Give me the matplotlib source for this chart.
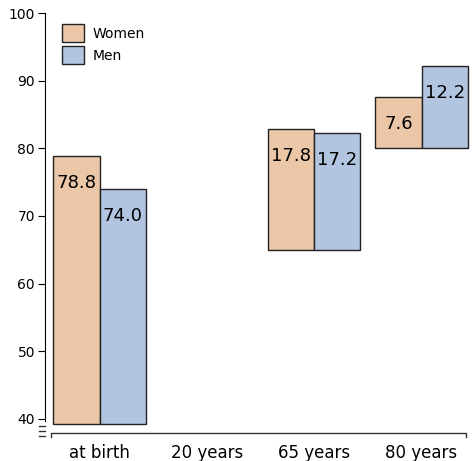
import matplotlib.pyplot as plt
from matplotlib.patches import Patch

plt.rcParams['font.family'] = ['Liberation Sans Narrow', 'DejaVu Sans']

categories = ['at birth', '20 years', '65 years', '80 years']
women_base = [39.2, None, 65.0, 80.0]
women_years = [78.8, None, 17.8, 7.6]
men_base = [39.2, None, 65.0, 80.0]
men_years = [74.0, None, 17.2, 12.2]
women_label = ['78.8', None, '17.8', '7.6']
men_label = ['74.0', None, '17.2', '12.2']

c_w = '#EBC7A8'
c_m = '#B1C4E0'
w = 0.43

fig = plt.figure(figsize=(4.77, 4.61), dpi=100)
ax = fig.add_axes([0.094, 0.033, 0.891, 0.946])

for i in range(len(categories)):
    if women_years[i] is None:
        continue
    # at birth the value is the absolute age, otherwise years remaining
    if i == 0:
        wt, mt = women_years[i], men_years[i]
    else:
        wt = women_base[i] + women_years[i]
        mt = men_base[i] + men_years[i]
    ax.bar(i - w / 2, wt - women_base[i], w, bottom=women_base[i], color=c_w, edgecolor='#222222', linewidth=1)
    ax.bar(i + w / 2, mt - men_base[i], w, bottom=men_base[i], color=c_m, edgecolor='#222222', linewidth=1)
    ax.text(i - w / 2, wt - 4, women_label[i], ha='center', va='center', fontsize=13)
    ax.text(i + w / 2, mt - 4, men_label[i], ha='center', va='center', fontsize=13)

ax.set_xlim(-0.51, 3.45)
ax.set_ylim(36, 100.5)
for s in ['top', 'right', 'bottom']:
    ax.spines[s].set_visible(False)
ax.spines['left'].set_bounds(39.7, 100)
ax.set_yticks(range(40, 101, 10))
ax.tick_params(axis='y', length=5, labelsize=10, pad=2)
ax.set_xticks(range(len(categories)))
ax.set_xticklabels(categories, fontsize=12)
ax.tick_params(axis='x', length=0, pad=-1)

# broken axis marks and separate x baseline
for yy in [38.9, 38.2, 37.5]:
    ax.plot([-0.565, -0.51], [yy, yy], color='#333333', lw=1, clip_on=False)
ax.plot([-0.45, -0.45, 3.41, 3.41], [37.3, 37.9, 37.9, 37.3], color='#333333', lw=1, clip_on=False)

handles = [Patch(facecolor=c_w, edgecolor='#222222', label='Women'),
           Patch(facecolor=c_m, edgecolor='#222222', label='Men')]
ax.legend(handles=handles, loc='upper left', bbox_to_anchor=(0.01, 0.995), frameon=False,
          fontsize=10, handlelength=1.6, handleheight=1.6, handletextpad=0.6, labelspacing=0.3)

fig.savefig('out.png')
